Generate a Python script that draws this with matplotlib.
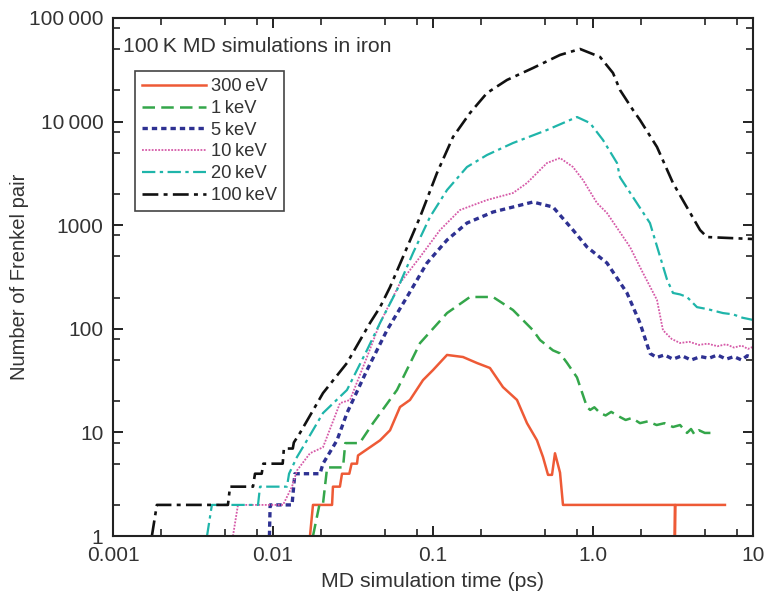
import matplotlib
matplotlib.use('Agg')
import matplotlib.pyplot as plt
from matplotlib.ticker import FixedLocator, LogLocator, NullFormatter

plt.rcParams['font.family'] = ['Liberation Sans', 'DejaVu Sans']

# time (ps) / number of Frenkel pairs
t_300ev = [0.01703, 0.01778, 0.0234, 0.0237, 0.0262, 0.027, 0.030, 0.031, 0.0335, 0.034,
           0.0467, 0.0539, 0.0622, 0.0718, 0.0866, 0.100, 0.1224, 0.154, 0.1884, 0.227,
           0.2738, 0.335, 0.3869, 0.4467, 0.487, 0.5236, 0.5546, 0.5788, 0.6223, 0.6494,
           3.25, 3.25, 3.27, 6.68]
n_300ev = [1, 2, 2, 3, 3, 4, 4, 5, 5, 6,
           8.4, 10.5, 17.6, 20.6, 32, 40, 56, 53.5, 46.8, 41.9,
           27.4, 20.6, 12.3, 8.4, 5.8, 3.9, 3.9, 6.3, 4.1, 2,
           2, 1, 2, 2]

t_1kev = [0.01778, 0.0195, 0.0205, 0.0218, 0.0274, 0.0283, 0.0348, 0.04217, 0.05957, 0.083,
          0.1224, 0.1703, 0.2371, 0.3162, 0.4217, 0.4667, 0.5623, 0.6223, 0.6879, 0.7943,
          0.9173, 0.96, 1.02, 1.107, 1.2, 1.3, 1.475, 1.6, 1.75, 1.967,
          2.2, 2.5, 2.8, 3.162, 3.5, 3.869, 4.1, 4.3, 4.6, 5.0, 5.623]
n_1kev = [1, 2, 2, 4.6, 4.6, 7.9, 7.9, 12.3, 25.7, 72.9,
          142, 203, 203, 152, 97, 78, 62, 58, 47, 34,
          17.6, 16.5, 17.5, 15.4, 14.6, 15.8, 14.1, 13.2, 13.8, 12.3,
          12.8, 11.8, 12.3, 11.3, 11.8, 9.9, 10.8, 9.6, 10.5, 9.9, 9.9]

t_5kev = [0.0095, 0.0096, 0.01315, 0.0137, 0.01967, 0.02054, 0.02512, 0.029, 0.03869, 0.05158,
          0.06879, 0.09173, 0.1224, 0.1631, 0.2371, 0.4217, 0.5623, 0.75, 0.9173, 1.223,
          1.631, 1.967, 2.27, 2.5, 2.8, 3.162, 3.6, 4.1, 4.7, 5.3,
          6.0, 6.8, 7.6, 8.5, 9.2, 10]
n_5kev = [1, 2, 2, 4, 4, 5, 8.4, 15.4, 40, 97,
          203, 432, 720, 1050, 1341, 1675, 1499, 899, 617, 432,
          222, 114, 58, 53, 56, 51, 55, 50, 54, 52,
          56, 51, 54, 50, 55, 53]

t_10kev = [0.00562, 0.00604, 0.01155, 0.01315, 0.01413, 0.01703, 0.02054, 0.02623, 0.0303, 0.03869,
           0.04667, 0.06223, 0.083, 0.1107, 0.1475, 0.2175, 0.3162, 0.3869, 0.5158, 0.6223,
           0.75, 0.866, 1.059, 1.223, 1.703, 2.054, 2.512, 2.738, 3.1, 3.5,
           4.0, 4.6, 5.2, 6.0, 6.8, 7.6, 8.5, 9.3, 10]
n_10kev = [1, 2, 2, 3, 4.3, 6.3, 7.2, 19.2, 20.6, 53.5,
           114, 277, 493, 899, 1402, 1751, 2046, 2555, 3985, 4454,
           3647, 2731, 1638, 1312, 617, 346, 190, 97, 80, 73,
           75, 70, 72, 68, 71, 66, 69, 64, 67]

t_20kev = [0.00387, 0.00415, 0.00806, 0.0083, 0.01223, 0.0126, 0.01413, 0.01631, 0.02054, 0.029,
           0.03869, 0.04667, 0.05957, 0.075, 0.09575, 0.1224, 0.1631, 0.2175, 0.3162, 0.5158,
           0.7943, 0.9575, 1.155, 1.413, 1.475, 2.27, 2.9, 3.162, 3.5, 3.869,
           4.467, 5.2, 6.494, 7.5, 8.6, 10]
n_20kev = [1, 2, 2, 3, 3, 4, 5.8, 8.4, 15.4, 25.7,
           62.4, 114, 237, 539, 1200, 2187, 3647, 4761, 6213, 8298,
           11075, 9691, 6642, 3985, 2900, 1050, 300, 222, 215, 203,
           162, 155, 142, 138, 128, 122]

t_100kev = [0.00175, 0.00188, 0.00523, 0.00539, 0.0075, 0.00772, 0.0085, 0.0087, 0.0115, 0.0117,
            0.0133, 0.0135, 0.01475, 0.02054, 0.029, 0.0404, 0.0467, 0.0539, 0.0649, 0.083,
            0.1059, 0.1334, 0.1703, 0.2175, 0.29, 0.4217, 0.6223, 0.83, 1.107, 1.334,
            1.475, 1.778, 1.967, 2.512, 3.162, 4.667, 5.158, 10]
n_100kev = [1, 2, 2, 3, 3, 4, 4, 5, 5, 7,
            7, 8, 9.9, 24, 46.8, 114, 162, 253, 493, 1200,
            3190, 7101, 12106, 18880, 25210, 32900, 43960, 50200, 42050, 29440,
            20184, 12942, 10360, 5690, 2555, 899, 769, 736]

x_ticks = [0.001, 0.01, 0.1, 1, 10]
x_tick_labels = ['0.001', '0.01', '0.1', '1.0', '10']
y_ticks = [1, 10, 100, 1000, 10000, 100000]
y_tick_labels = ['1', '10', '100', '1000', '10\u2009000', '100\u2009000']

fig = plt.figure(figsize=(7.66, 5.99), dpi=100)
ax = fig.add_axes([0.1475, 0.105, 0.8355, 0.865])

ax.plot(t_300ev, n_300ev, color='#ee5a36', lw=1.8, ls='-', label='300\u2009eV')
ax.plot(t_1kev, n_1kev, color='#34a64a', lw=1.8, ls=(0, (5, 2.5)), label='1\u2009keV')
ax.plot(t_5kev, n_5kev, color='#2e3192', lw=2.4, ls=(0, (1.6, 1.2)), label='5\u2009keV')
ax.plot(t_10kev, n_10kev, color='#d65aa8', lw=1.3, ls=(0, (1, 0.8)), label='10\u2009keV')
ax.plot(t_20kev, n_20kev, color='#1fb5aa', lw=1.6, ls=(0, (6, 2, 1.5, 2)), label='20\u2009keV')
ax.plot(t_100kev, n_100kev, color='#111111', lw=1.9, ls=(0, (6, 2, 1.5, 2)), label='100\u2009keV')

ax.set_xscale('log')
ax.set_yscale('log')
ax.set_xlim(0.001, 10)
ax.set_ylim(1, 100000)

ax.xaxis.set_major_locator(FixedLocator(x_ticks))
ax.set_xticklabels(x_tick_labels)
ax.yaxis.set_major_locator(FixedLocator(y_ticks))
ax.set_yticklabels(y_tick_labels)
ax.xaxis.set_minor_locator(LogLocator(base=10, subs=[2, 5, 8]))
ax.yaxis.set_minor_locator(LogLocator(base=10, subs=[2, 5, 8]))
ax.xaxis.set_minor_formatter(NullFormatter())
ax.yaxis.set_minor_formatter(NullFormatter())

ax.tick_params(which='both', direction='in', top=True, right=True, colors='#222222')
ax.tick_params(which='major', length=7, width=1.4, labelsize=15, pad=7, labelcolor='#333333')
ax.tick_params(which='minor', length=5, width=1.2)
for s in ax.spines.values():
    s.set_linewidth(1.5)
    s.set_color('#222222')

ax.set_xlabel('MD simulation time (ps)', fontsize=15.3, color='#333333', labelpad=5)
ax.set_ylabel('Number of Frenkel pair', fontsize=14.5, color='#333333', labelpad=0)

ax.text(0.016, 0.944, '100\u2009K MD simulations in iron', transform=ax.transAxes,
        fontsize=15.3, color='#333333', va='center', ha='left')

leg = ax.legend(loc='upper left', bbox_to_anchor=(0.034, 0.898), borderaxespad=0,
                handlelength=3.5, fontsize=13.2, frameon=True, fancybox=False,
                framealpha=1, edgecolor='#444444', labelspacing=0.26, handletextpad=0.25,
                borderpad=0.4)
leg.get_frame().set_linewidth(1.2)
for txt in leg.get_texts():
    txt.set_color('#333333')

fig.savefig('out.png', dpi=100)
